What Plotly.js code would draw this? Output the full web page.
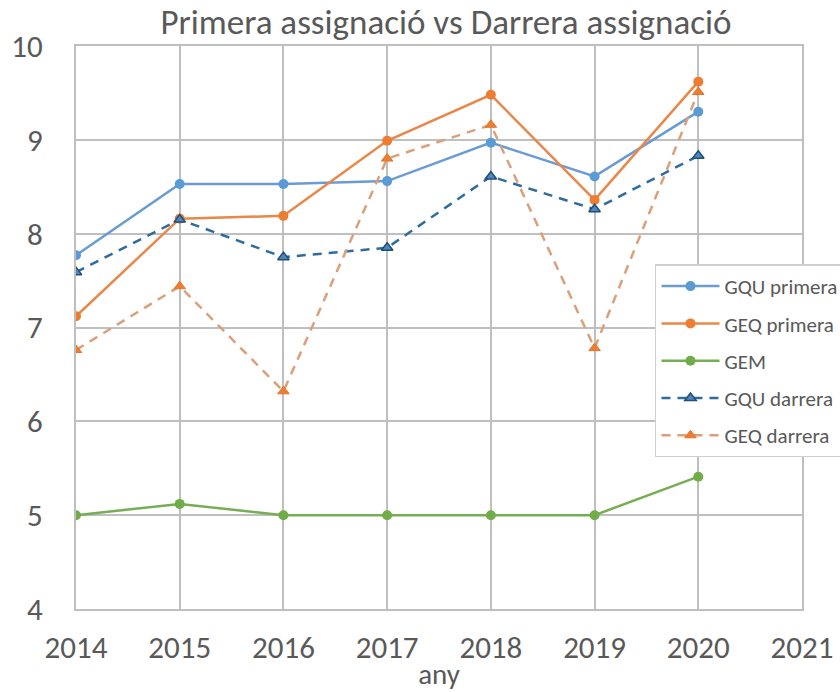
<!DOCTYPE html>
<html><head><meta charset="utf-8">
<script src="https://cdn.plot.ly/plotly-3.0.1.min.js"></script>
<style>body{margin:0;padding:0;background:#fff}</style>
</head><body>
<div id="chart" style="width:840px;height:692px"></div>
<script>
const years = [2014, 2015, 2016, 2017, 2018, 2019, 2020];
const gquPrimera = [7.77, 8.53, 8.53, 8.56, 8.97, 8.61, 9.30];
const geqPrimera = [7.12, 8.16, 8.19, 8.99, 9.48, 8.36, 9.62];
const gem = [5.00, 5.12, 5.00, 5.00, 5.00, 5.00, 5.41];
const gquDarrera = [7.59, 8.15, 7.75, 7.85, 8.61, 8.26, 8.83];
const geqDarrera = [6.76, 7.44, 6.32, 8.80, 9.16, 6.78, 9.51];
const xTicks = [2014, 2015, 2016, 2017, 2018, 2019, 2020, 2021];
const yTicks = [4, 5, 6, 7, 8, 9, 10];

const FONT = "Carlito, 'Open Sans', sans-serif";

const traces = [
  {x: years, y: gquPrimera, name: 'GQU primera', legendgroup: 'a', mode: 'lines+markers',
   line: {color: '#6A9BD3', width: 2.5}, marker: {symbol: 'circle', size: 10, color: '#5B9BD5'}},
  {x: years, y: geqPrimera, name: 'GEQ primera', legendgroup: 'b', mode: 'lines+markers',
   line: {color: '#E8884A', width: 2.5}, marker: {symbol: 'circle', size: 10, color: '#ED7D31'}},
  {x: years, y: gem, name: 'GEM', legendgroup: 'c', mode: 'lines+markers',
   line: {color: '#77AD55', width: 2.5}, marker: {symbol: 'circle', size: 10, color: '#70AD47'}},
  {x: years, y: gquDarrera, name: 'GQU darrera', legendgroup: 'd', mode: 'lines+markers',
   line: {color: '#2F6C9E', width: 2.5, dash: '9px,7px'},
   marker: {symbol: 'triangle-up', size: 10, color: '#4F86BE', line: {color: '#1F4E79', width: 1.5}}},
  {x: years, y: geqDarrera, name: 'GEQ darrera', legendgroup: 'e', mode: 'lines+markers',
   line: {color: '#DBA07A', width: 2.5, dash: '9px,7px'},
   marker: {symbol: 'triangle-up', size: 10, color: '#ED7D31', line: {color: '#E2762E', width: 1}}}
];

const layout = {
  width: 840, height: 692,
  margin: {l: 76, r: 38, t: 46, b: 83, autoexpand: false},
  paper_bgcolor: '#ffffff', plot_bgcolor: '#ffffff',
  font: {family: FONT, color: '#595959'},
  title: {text: 'Primera assignació vs Darrera assignació', font: {size: 35, color: '#595959', family: FONT},
          x: 0.531, xanchor: 'center', y: 0.968, yanchor: 'middle'},
  xaxis: {
    range: [2014, 2021], tickvals: xTicks, ticktext: xTicks.map(String),
    showgrid: true, gridcolor: '#BFBFBF', gridwidth: 2,
    showline: true, linecolor: '#BFBFBF', linewidth: 2, mirror: true,
    zeroline: false, ticks: '', ticklabelstandoff: 10, automargin: false,
    tickfont: {size: 31, color: '#595959'},
    title: {text: 'any', font: {size: 29, color: '#595959'}, standoff: 4}
  },
  yaxis: {
    range: [4, 10], tickvals: yTicks,
    showgrid: true, gridcolor: '#BFBFBF', gridwidth: 2,
    showline: true, linecolor: '#BFBFBF', linewidth: 2, mirror: true,
    zeroline: false, ticks: '', ticklabelstandoff: 25, automargin: false,
    tickfont: {size: 31, color: '#595959'}
  },
  legend: {
    x: 0.7975, y: 0.612, xanchor: 'left', yanchor: 'top',
    bgcolor: '#ffffff', bordercolor: '#D0D0D0', borderwidth: 1.5,
    font: {size: 21, color: '#595959'}, tracegroupgap: 7, traceorder: 'grouped',
    itemwidth: 58
  },
  showlegend: true
};

Plotly.newPlot('chart', traces, layout, {displayModeBar: false, staticPlot: true});
</script>
</body></html>
